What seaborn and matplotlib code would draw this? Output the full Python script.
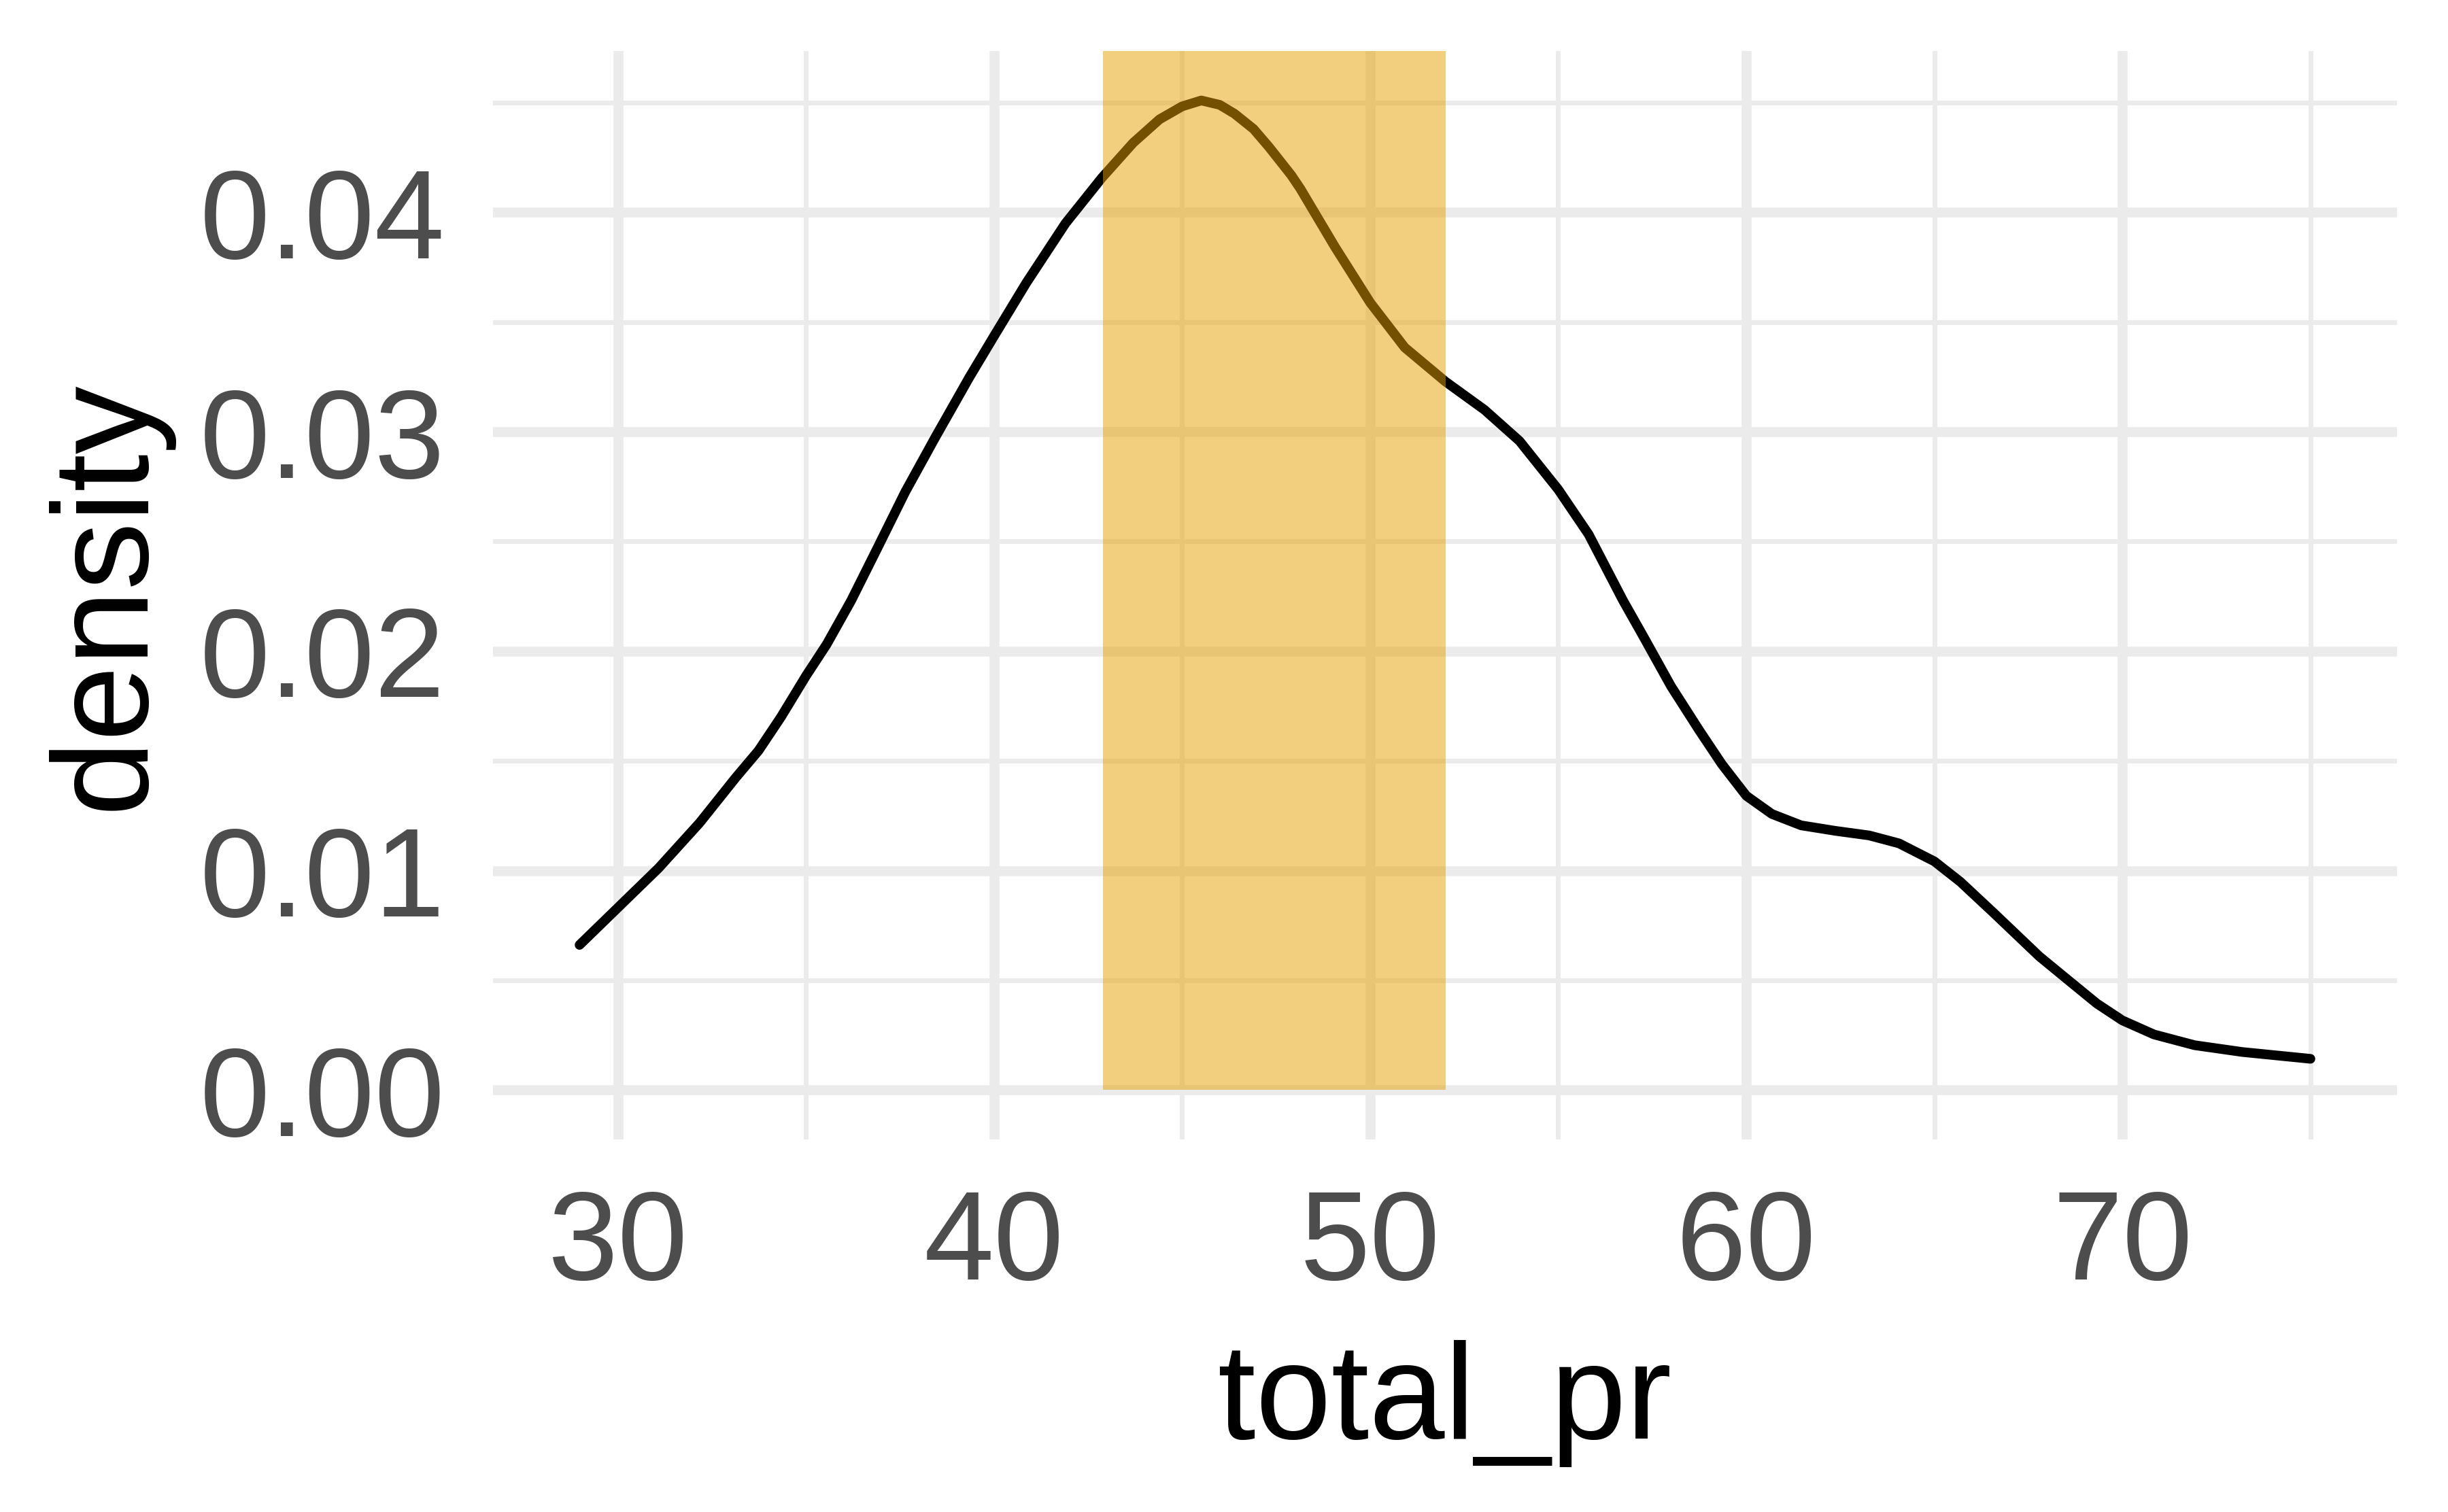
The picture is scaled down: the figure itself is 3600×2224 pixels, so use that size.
import numpy as np
import pandas as pd
import matplotlib
matplotlib.use("Agg")
import matplotlib.pyplot as plt
import seaborn as sns

# density curve of total_pr
total_pr = [28.98, 30.0, 31.08, 32.17, 33.13, 33.74, 34.34, 35.0, 35.55, 36.2,
            36.9, 37.64, 38.44, 39.34, 40.0, 40.86, 41.9, 42.87, 43.7, 44.4,
            45.0, 45.51, 46.0, 46.39, 46.9, 47.31, 47.9, 48.14, 49.07, 50.0,
            50.92, 52.0, 53.04, 53.97, 55.0, 55.81, 56.72, 57.28, 58.0, 58.75,
            59.35, 60.0, 60.68, 61.46, 62.37, 63.27, 64.06, 65.0, 65.69, 66.59,
            67.79, 68.55, 69.32, 70.0, 70.84, 71.92, 73.19, 75.0]
density = [0.00661, 0.00831, 0.01011, 0.01217, 0.01423, 0.01547, 0.01701, 0.01887, 0.02031, 0.0223,
           0.0247, 0.02726, 0.02975, 0.03247, 0.03436, 0.03679, 0.0395, 0.04158, 0.04317, 0.04424,
           0.04483, 0.0451, 0.0449, 0.0445, 0.0438, 0.04298, 0.0417, 0.04109, 0.03841, 0.03589,
           0.03384, 0.03229, 0.031, 0.02958, 0.02737, 0.02532, 0.02232, 0.02062, 0.0184, 0.01639,
           0.01485, 0.01341, 0.01258, 0.01206, 0.01181, 0.0116, 0.01124, 0.01042, 0.00949, 0.00805,
           0.00609, 0.00502, 0.00394, 0.00317, 0.00253, 0.00204, 0.00173, 0.00142]

# shaded interval
band = [42.9, 52.0]

x_ticks = [30, 40, 50, 60, 70]
x_minor = [35, 45, 55, 65, 75]
y_ticks = [0.00, 0.01, 0.02, 0.03, 0.04]
y_labels = ["0.00", "0.01", "0.02", "0.03", "0.04"]
y_minor = [0.005, 0.015, 0.025, 0.035, 0.045]

sns.set_theme(style="white")
plt.rcParams["font.family"] = ["Liberation Sans", "DejaVu Sans"]

df = pd.DataFrame({"total_pr": total_pr, "density": density})

fig, ax = plt.subplots(figsize=(12, 2224 / 300))
fig.subplots_adjust(left=725 / 3600, right=3525 / 3600, top=1 - 75 / 2224, bottom=1 - 1676 / 2224)

sns.lineplot(data=df, x="total_pr", y="density", color="black", linewidth=3.4, ax=ax, zorder=2)

# ggplot-like expansion (5%)
xr = max(total_pr) - min(total_pr)
ax.set_xlim(min(total_pr) - 0.05 * xr, max(total_pr) + 0.05 * xr)
yr = max(density)
ax.set_ylim(-0.05 * yr, 1.05 * yr)

ylo, yhi = ax.get_ylim()
ax.axvspan(band[0], band[1], ymin=(0 - ylo) / (yhi - ylo), ymax=1,
           color="#E69F00", alpha=0.5, lw=0, zorder=3)

ax.set_xticks(x_ticks)
ax.set_xticks(x_minor, minor=True)
ax.set_yticks(y_ticks)
ax.set_yticklabels(y_labels)
ax.set_yticks(y_minor, minor=True)

ax.grid(True, which="major", color="#EBEBEB", linewidth=3.5, zorder=0)
ax.grid(True, which="minor", color="#EBEBEB", linewidth=1.7, zorder=0)
ax.set_axisbelow(True)

for s in ax.spines.values():
    s.set_visible(False)

ax.tick_params(axis="both", which="both", length=0)
ax.tick_params(axis="x", which="major", labelsize=44.5, labelcolor="#4D4D4D", pad=17)
ax.tick_params(axis="y", which="major", labelsize=44.5, labelcolor="#4D4D4D", pad=17)

ax.set_xlabel("total_pr", fontsize=48, color="black", labelpad=12)
ax.set_ylabel("density", fontsize=48, color="black", labelpad=10)

fig.savefig("out.png", dpi=300, facecolor="white")
